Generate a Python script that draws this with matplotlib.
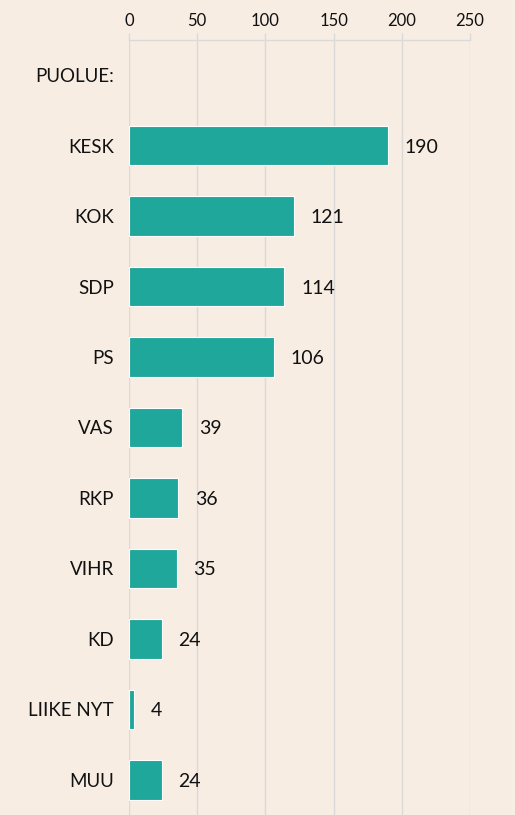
import numpy as np
import matplotlib
matplotlib.use('Agg')
import matplotlib.pyplot as plt

# seat counts per party
parties = ['PUOLUE:', 'KESK', 'KOK', 'SDP', 'PS', 'VAS', 'RKP', 'VIHR', 'KD', 'LIIKE NYT', 'MUU']
seats = [None, 190, 121, 114, 106, 39, 36, 35, 24, 4, 24]
x_ticks = [0, 50, 100, 150, 200, 250]

bg = '#F7EDE3'
bar_col = '#20A79B'
grid_col = '#D9D9D9'

plt.rcParams['font.family'] = ['Lato', 'DejaVu Sans']

fig = plt.figure(figsize=(5.15, 8.15), dpi=100)
fig.patch.set_facecolor(bg)
ax = fig.add_axes([129 / 515, 0, 341 / 515, 775 / 815])
ax.set_facecolor(bg)

ypos = np.arange(len(parties))
for y, v in zip(ypos, seats):
    if v is None:
        continue
    ax.barh(y, v, height=0.56, color=bar_col, edgecolor='white', linewidth=0.8, zorder=3)
    ax.annotate(str(v), xy=(v, y), xytext=(12, 0), textcoords='offset points',
                va='center_baseline', ha='left', fontsize=14, color='#111111')

ax.set_ylim(len(parties) - 0.5, -0.5)
ax.set_xlim(0, 250)
ax.set_yticks(ypos)
ax.set_yticklabels(parties, fontsize=13.5, color='#111111', va='center_baseline')
ax.set_xticks(x_ticks)
ax.set_xticklabels([str(t) for t in x_ticks], fontsize=12, color='#111111')
ax.xaxis.tick_top()
ax.tick_params(axis='y', length=0, pad=11)
ax.tick_params(axis='x', length=5, color=grid_col, width=1, pad=3)
ax.grid(axis='x', color=grid_col, linewidth=1, zorder=0)

for s in ['right', 'bottom', 'left']:
    ax.spines[s].set_visible(False)
ax.spines['top'].set_color(grid_col)
ax.spines['top'].set_linewidth(1)

fig.savefig('out.png', dpi=100, facecolor=bg)
